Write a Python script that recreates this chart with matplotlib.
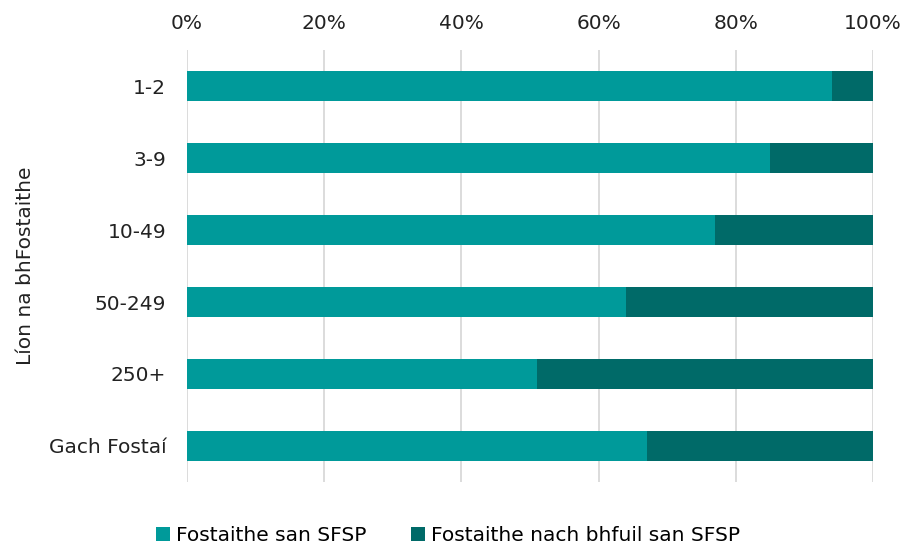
import numpy as np
import matplotlib.pyplot as plt

# categories, top to bottom
categories = ['1-2', '3-9', '10-49', '50-249', '250+', 'Gach Fostaí']
san_sfsp = [94, 85, 77, 64, 51, 67]
nach_san_sfsp = [100 - v for v in san_sfsp]
ticks = [0, 20, 40, 60, 80, 100]
tick_labels = ['0%', '20%', '40%', '60%', '80%', '100%']

teal = '#009a9a'
dark = '#006a68'

plt.rcParams['font.family'] = ['DejaVu Sans']
fig = plt.figure(figsize=(9.07, 5.44), dpi=100)
ax = fig.add_axes([0.2062, 0.114, 0.7563, 0.794])

y = np.arange(len(categories))
ax.barh(y, san_sfsp, height=0.42, color=teal, label='Fostaithe san SFSP', zorder=3)
ax.barh(y, nach_san_sfsp, left=san_sfsp, height=0.42, color=dark,
        label='Fostaithe nach bhfuil san SFSP', zorder=3)

ax.set_xlim(0, 100)
ax.set_ylim(len(categories) - 0.5, -0.5)
ax.set_yticks(y)
ax.set_yticklabels(categories, fontsize=14.5, color='#222222')
ax.set_xticks(ticks)
ax.set_xticklabels(tick_labels, fontsize=14.5, color='#222222')
ax.xaxis.tick_top()
ax.tick_params(axis='y', length=0, pad=15)
ax.tick_params(axis='x', length=0, pad=12)
ax.grid(axis='x', color='#d9d9d9', linewidth=1.3, zorder=0)
for s in ax.spines.values():
    s.set_visible(False)

ax.set_ylabel('Líon na bhFostaithe', fontsize=14.5, color='#222222', labelpad=10)

ax.legend(loc='center', bbox_to_anchor=(0.38, -0.125), ncol=2, frameon=False,
          fontsize=14.5, handlelength=0.7, handleheight=0.7, columnspacing=2.2,
          handletextpad=0.3)

fig.savefig('out.png', dpi=100)
